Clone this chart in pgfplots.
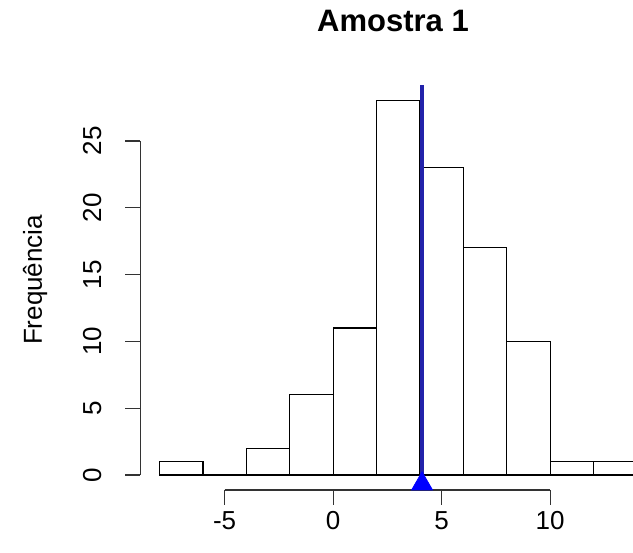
\documentclass[border=0pt]{standalone}
\usepackage{fontspec}
\setmainfont{Liberation Sans}
\usepackage{pgfplots}
\pgfplotsset{compat=1.18}

\definecolor{meanline}{RGB}{34,34,170}

\begin{document}
\begin{tikzpicture}
\begin{axis}[
    scale only axis,
    width=316.5pt,
    height=276.5pt,
    xmin=-15.35, xmax=13.82,
    ymin=-5.84, ymax=35.55,
    axis lines=none,
    clip=true,
]
% histogram (bins of width 2)
\addplot[ybar interval, draw=black, fill=white, line width=0.6pt] coordinates {
    (-8,1) (-6,0) (-4,2) (-2,6) (0,11) (2,28) (4,23) (6,17) (8,10) (10,1) (12,1) (14,1)
};
% mean line
\addplot[meanline, line width=2pt] coordinates {(4.1,0) (4.1,29.2)};
% R-style x axis
\draw[line width=0.6pt, black!80] (axis cs:-5,-1.12) -- (axis cs:10,-1.12);
\pgfplotsinvokeforeach{-5,0,5,10}{
    \draw[line width=0.6pt, black!80] (axis cs:#1,-1.12) -- (axis cs:#1,-2.25);
    \node[font=\fontsize{13}{15}\selectfont] at (axis cs:#1,-3.4) {#1};
}
% R-style y axis
\draw[line width=0.6pt, black!80] (axis cs:-8.89,0) -- (axis cs:-8.89,25);
\pgfplotsinvokeforeach{0,5,10,15,20,25}{
    \draw[line width=0.6pt, black!80] (axis cs:-8.89,#1) -- (axis cs:-9.58,#1);
    \node[rotate=90, font=\fontsize{13}{15}\selectfont] at (axis cs:-11.1,#1) {#1};
}
% mean marker
\addplot[only marks, mark=triangle*, mark size=6pt, color=blue] coordinates {(4.1,-0.67)};
\coordinate (ttl) at (axis cs:2.76,34.0);
\coordinate (ylab) at (axis cs:-13.73,14.6);
\coordinate (bl) at (rel axis cs:0,0);
\coordinate (tr) at (rel axis cs:1,1);
\end{axis}
% title and label
\node[font=\fontsize{15.5}{18}\selectfont\bfseries] at (ttl) {Amostra 1};
\node[rotate=90, font=\fontsize{13}{15}\selectfont] at (ylab) {Frequência};
\pgfresetboundingbox
\path[use as bounding box] (bl) rectangle (tr);
\end{tikzpicture}
\end{document}
